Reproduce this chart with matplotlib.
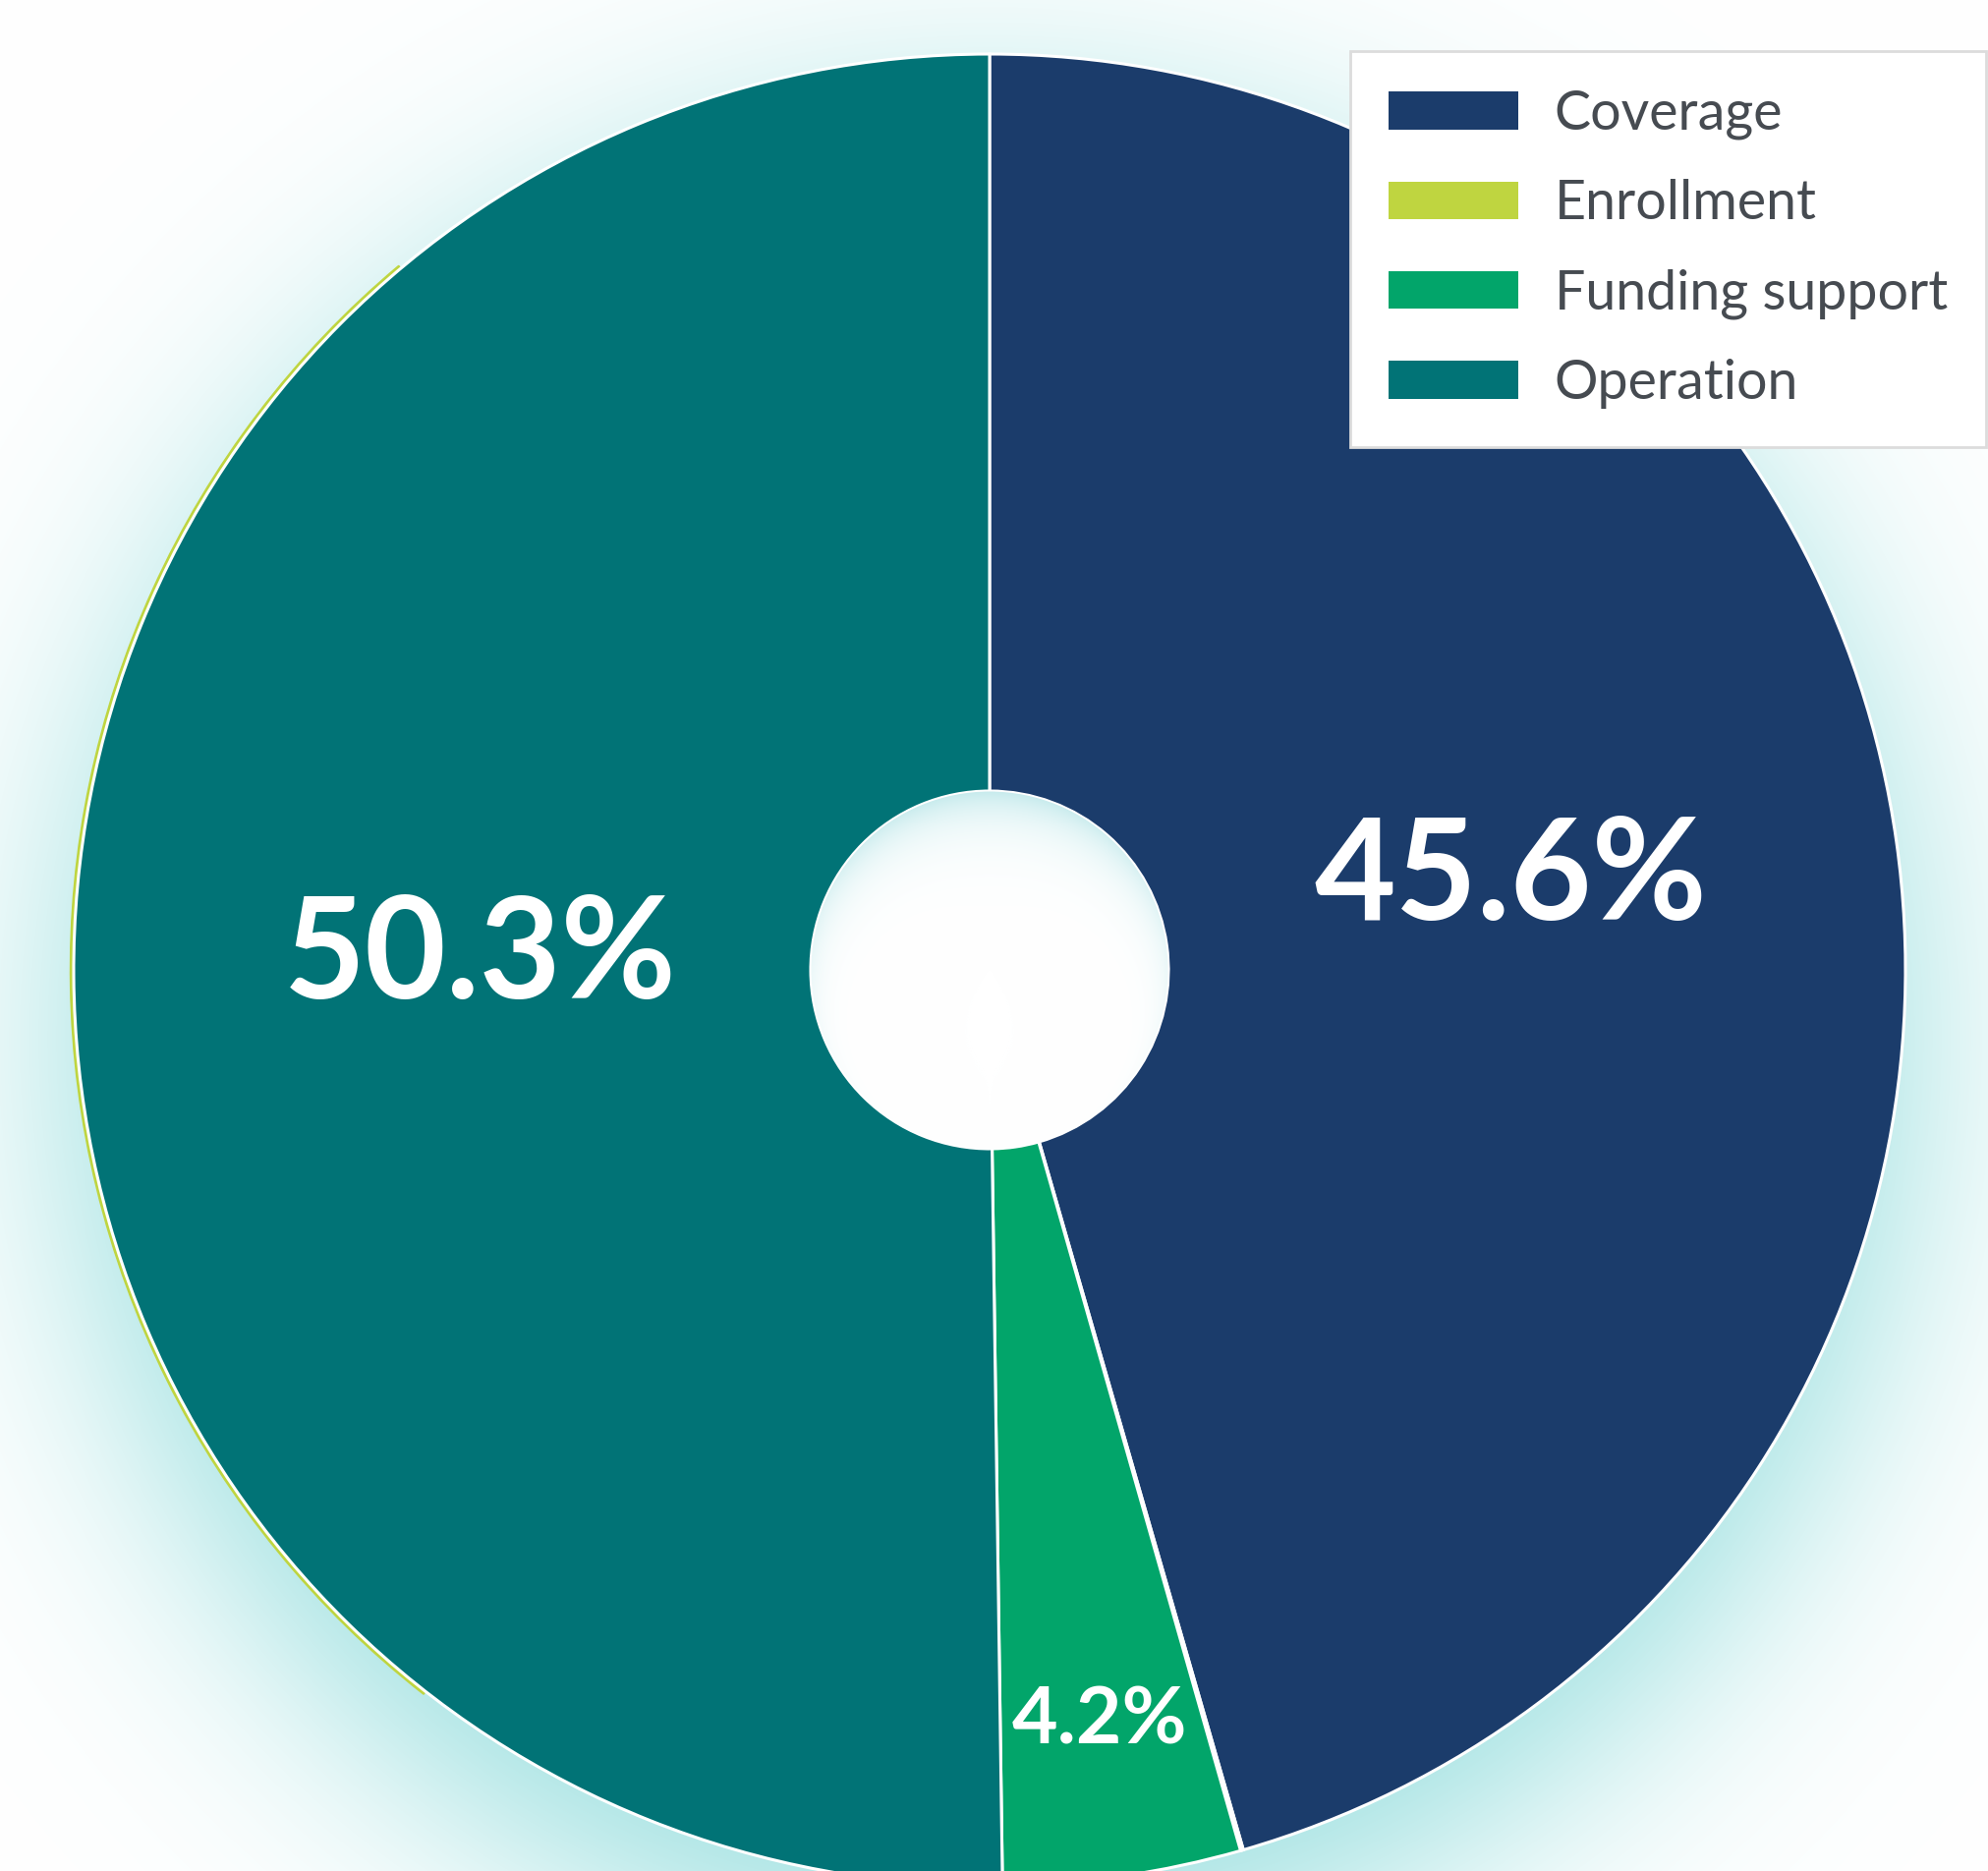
import numpy as np
import matplotlib.pyplot as plt
from matplotlib.patches import Circle, Wedge

# budget split by category
labels = ["Coverage", "Enrollment", "Funding support", "Operation"]
shares = [45.6, 0.05, 4.2, 50.3]
colors = ["#1b3c6b", "#bfd540", "#02a56a", "#017376"]

W, H = 2023, 1904
cx, cy = 1007, H - 987      # pie centre (y measured from the bottom)
R, r_hole = 932, 182

fig = plt.figure(figsize=(W / 100, H / 100), dpi=100)
ax = fig.add_axes([0, 0, 1, 1])

# soft cyan drop glow behind the pie, pushed a little downward
yy, xx = np.mgrid[0:H, 0:W]
d = np.hypot(xx - cx, yy - (H - cy + 70)) - R
glow = 1 / (1 + np.exp(d / 70))
cyan = np.array([0.60, 0.874, 0.874])
bg = (1 - glow[..., None]) + glow[..., None] * cyan
ax.imshow(bg, extent=(0, W, 0, H), origin="upper", zorder=0)

# thin rim of the enrollment colour along the left edge
ax.add_patch(Wedge((cx, cy), R + 3.5, 130, 232, width=4, color=colors[1], zorder=1))

wedges, _ = ax.pie(shares, colors=colors, startangle=90, counterclock=False,
                   center=(cx, cy), radius=R,
                   wedgeprops=dict(width=R - r_hole, edgecolor="white", linewidth=2.2))
for w in wedges:
    w.set_zorder(2)

# white hole with a soft inner shadow along the top
ax.add_patch(Circle((cx, cy), r_hole, color="white", zorder=3))
n = 2 * r_hole
hy, hx = np.mgrid[0:n, 0:n]
dx = hx - r_hole + 0.5
dy = hy - r_hole + 0.5          # positive downward
rr = np.hypot(dx, dy)
edge = np.clip(r_hole - rr, 0, None)
up = (1 - dy / np.maximum(rr, 1)) / 2
shade = np.exp(-edge / (3 + 26 * up)) * (0.8 * up ** 1.5)
hole_cyan = np.array([0.72, 0.90, 0.91])
hole = (1 - shade[..., None]) + shade[..., None] * hole_cyan
im = ax.imshow(hole, extent=(cx - r_hole, cx + r_hole, cy - r_hole, cy + r_hole),
               origin="upper", zorder=4)
clip = Circle((cx, cy), r_hole - 0.5, transform=ax.transData)
im.set_clip_path(clip)

# percentage labels
label_r = [0.575, 0, 0.825, 0.556]
label_lift = [18, 0, -4, 16]
label_size = [103, 0, 58, 103]
for w, v, rf, lift, fs in zip(wedges, shares, label_r, label_lift, label_size):
    if fs == 0:
        continue
    mid = np.radians((w.theta1 + w.theta2) / 2)
    ax.text(cx + rf * R * np.cos(mid), cy + rf * R * np.sin(mid) + lift,
            f"{v:.1f}%", color="white", fontsize=fs, fontweight="bold",
            family="Lato", ha="center", va="center", zorder=5)

leg = ax.legend(wedges, labels, loc="upper left",
                bbox_to_anchor=(1374 / W, 1 - 52 / H), borderaxespad=0,
                prop=dict(family="Lato", weight="normal", size=40),
                labelcolor="#464b51", frameon=True, fancybox=False,
                edgecolor="#dcdcdc", facecolor="white", framealpha=1,
                borderpad=0.7, handlelength=2.37, handleheight=0.7,
                labelspacing=0.72, handletextpad=0.67)
leg.get_frame().set_linewidth(2)
leg.set_zorder(6)
for h in leg.legend_handles:
    h.set_edgecolor("none")

ax.set_xlim(0, W)
ax.set_ylim(0, H)
ax.axis("off")
fig.savefig("out.png", dpi=100)
